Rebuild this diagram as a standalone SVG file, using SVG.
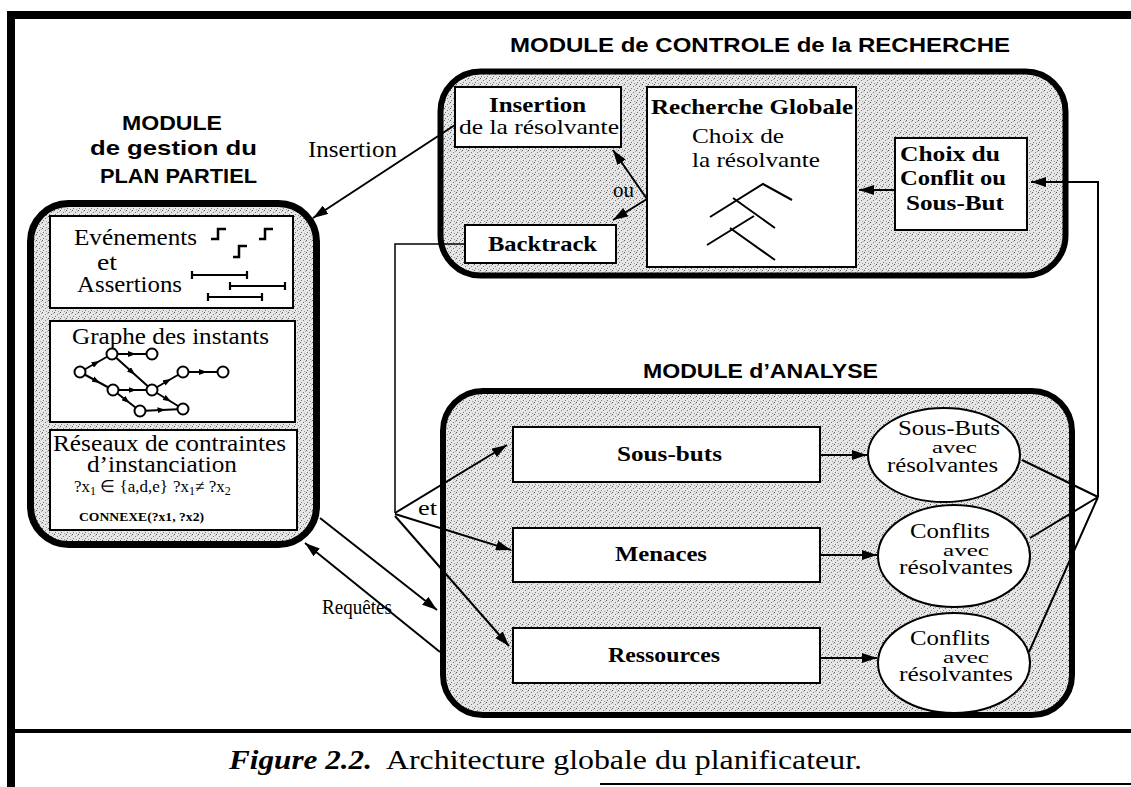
<svg xmlns="http://www.w3.org/2000/svg" width="1131" height="787" viewBox="0 0 1131 787">
<style>
.serif{font-family:"Liberation Serif","Times New Roman",Times,serif;fill:#000}
.sans{font-family:"Liberation Sans",Arial,sans-serif;font-weight:bold;fill:#000}
.b{font-weight:bold}
.box{fill:#fff;stroke:#000;stroke-width:2}
.mod{fill:url(#stip);stroke:#000}
.ln{fill:none;stroke:#000;stroke-width:2}
.thin{fill:none;stroke:#000;stroke-width:1.5}
.frame{stroke:#000;fill:none}
</style>
<defs>
<pattern id="stip" width="6" height="6" patternUnits="userSpaceOnUse">
<rect width="6" height="6" fill="#e6e6e6"/>
<rect x="0" y="0" width="1" height="1" fill="#555"/>
<rect x="3" y="2" width="1" height="1" fill="#777"/>
<rect x="1" y="4" width="1" height="1" fill="#777"/>
<rect x="4" y="5" width="1" height="1" fill="#999"/>
<rect x="5" y="1" width="1" height="1" fill="#aaa"/>
</pattern>
<marker id="ah" markerWidth="15" markerHeight="10" refX="15" refY="5" orient="auto" markerUnits="userSpaceOnUse"><path d="M0,0 L15,5 L0,10 z" fill="#000"/></marker>
<marker id="sm" markerWidth="8" markerHeight="6" refX="4" refY="3" orient="auto" markerUnits="userSpaceOnUse"><path d="M0,0 L8,3 L0,6 z" fill="#000"/></marker>
</defs>

<!-- frame -->
<g id="frame">
<line class="frame" x1="7" y1="15" x2="1131" y2="15" stroke-width="8"/>
<line class="frame" x1="11" y1="11" x2="11" y2="787" stroke-width="8"/>
<line class="frame" x1="7" y1="731" x2="1131" y2="731" stroke-width="4"/>
<line class="frame" x1="600" y1="784" x2="1131" y2="784" stroke-width="2"/>
</g>

<!-- titles -->
<g id="titles">
<text class="sans" x="510" y="52" font-size="21" textLength="500" lengthAdjust="spacingAndGlyphs">MODULE de CONTROLE de la RECHERCHE</text>
<text class="sans" x="122" y="130" font-size="21" textLength="100" lengthAdjust="spacingAndGlyphs">MODULE</text>
<text class="sans" x="90" y="155" font-size="21" textLength="167" lengthAdjust="spacingAndGlyphs">de gestion du</text>
<text class="sans" x="100" y="183" font-size="21" textLength="157" lengthAdjust="spacingAndGlyphs">PLAN PARTIEL</text>
<text class="sans" x="643" y="378" font-size="21" textLength="235" lengthAdjust="spacingAndGlyphs">MODULE d’ANALYSE</text>
</g>

<!-- control module -->
<g id="module-controle">
<rect class="mod" x="440.5" y="71.5" width="625" height="204" rx="40" stroke-width="6"/>
</g>
<g id="insertion-resolvante">
<rect class="box" x="455" y="87" width="166" height="60"/>
<text class="serif b" x="489" y="112" font-size="22" textLength="97" lengthAdjust="spacingAndGlyphs">Insertion</text>
<text class="serif" x="459" y="134" font-size="22" textLength="160" lengthAdjust="spacingAndGlyphs">de la résolvante</text>
</g>
<g id="recherche-globale">
<rect class="box" x="647" y="87" width="209" height="180"/>
<text class="serif b" x="651" y="114" font-size="22" textLength="202" lengthAdjust="spacingAndGlyphs">Recherche Globale</text>
<text class="serif" x="692" y="143" font-size="22" textLength="92" lengthAdjust="spacingAndGlyphs">Choix de</text>
<text class="serif" x="692" y="167" font-size="22" textLength="128" lengthAdjust="spacingAndGlyphs">la résolvante</text>
<path class="ln" d="M710,217 L763,184 L792,200 M733,198 L775,228 M707,245 L754,216 M730,228 L775,260"/>
</g>
<g id="backtrack">
<rect class="box" x="465" y="225" width="151" height="38"/>
<text class="serif b" x="488" y="251" font-size="22" textLength="109" lengthAdjust="spacingAndGlyphs">Backtrack</text>
</g>
<g id="choix-conflit">
<rect class="box" x="895" y="138" width="132" height="92"/>
<text class="serif b" x="900" y="161" font-size="22" textLength="100" lengthAdjust="spacingAndGlyphs">Choix du</text>
<text class="serif b" x="900" y="185" font-size="22" textLength="106" lengthAdjust="spacingAndGlyphs">Conflit ou</text>
<text class="serif b" x="906" y="210" font-size="22" textLength="98" lengthAdjust="spacingAndGlyphs">Sous-But</text>
</g>

<!-- plan partiel module -->
<g id="module-plan-partiel">
<rect class="mod" x="30.5" y="203.5" width="286" height="341" rx="38" stroke-width="7"/>
</g>
<g id="evenements-assertions">
<rect class="box" x="50" y="216" width="243" height="92"/>
<text class="serif" x="74" y="245" font-size="24" textLength="123" lengthAdjust="spacingAndGlyphs">Evénements</text>
<text class="serif" x="97" y="270" font-size="24" textLength="20" lengthAdjust="spacingAndGlyphs">et</text>
<text class="serif" x="77" y="292" font-size="24" textLength="105" lengthAdjust="spacingAndGlyphs">Assertions</text>
<path d="M211,239 L218,239 L218,229 L226,229 M233,257 L239,257 L239,246 L247,246 M259,239 L265,239 L265,229 L273,229" fill="none" stroke="#000" stroke-width="2.5"/>
<path d="M192,275 H247 M192,271 V279 M247,271 V279 M230,286 H285 M230,282 V290 M285,282 V290 M208,297 H262 M208,293 V301 M262,293 V301" fill="none" stroke="#000" stroke-width="2.2"/>
</g>
<g id="graphe-instants">
<rect class="box" x="50" y="321" width="245" height="101"/>
<text class="serif" x="72" y="344" font-size="24" textLength="197" lengthAdjust="spacingAndGlyphs">Graphe des instants</text>
<g fill="none" stroke="#000" stroke-width="2" marker-mid="url(#sm)">
<path d="M80,372 L96,363 L112,354"/>
<path d="M112,354 L132,354 L152,354"/>
<path d="M80,372 L96.5,381 L113,390"/>
<path d="M112,354 L132,372 L152,390"/>
<path d="M113,390 L132.5,390 L152,390"/>
<path d="M113,390 L126.5,400.5 L140,411"/>
<path d="M140,411 L161.5,410 L183,409"/>
<path d="M152,390 L167.5,399.5 L183,409"/>
<path d="M152,390 L167.5,381 L183,372"/>
<path d="M183,372 L203,372 L223,372"/>
</g>
<g fill="#fff" stroke="#000" stroke-width="2">
<circle cx="80" cy="372" r="5.5"/><circle cx="112" cy="354" r="5.5"/><circle cx="152" cy="354" r="5.5"/>
<circle cx="113" cy="390" r="5.5"/><circle cx="152" cy="390" r="5.5"/><circle cx="140" cy="411" r="5.5"/>
<circle cx="183" cy="409" r="5.5"/><circle cx="183" cy="372" r="5.5"/><circle cx="223" cy="372" r="5.5"/>
</g>
</g>
<g id="reseaux-contraintes">
<rect class="box" x="50" y="430" width="247" height="100"/>
<text class="serif" x="53" y="451" font-size="24" textLength="233" lengthAdjust="spacingAndGlyphs">Réseaux de contraintes</text>
<text class="serif" x="87" y="472" font-size="24" textLength="150" lengthAdjust="spacingAndGlyphs">d’instanciation</text>
<text class="serif" x="74" y="492" font-size="17">?x<tspan dy="3" font-size="12">1</tspan><tspan dy="-3"> ∈ {a,d,e}</tspan></text>
<text class="serif" x="173" y="492" font-size="17">?x<tspan dy="3" font-size="12">1</tspan><tspan dy="-3">≠ ?x</tspan><tspan dy="3" font-size="12">2</tspan></text>
<text class="serif b" x="79" y="521" font-size="13" textLength="125" lengthAdjust="spacingAndGlyphs">CONNEXE(?x1, ?x2)</text>
</g>

<!-- analysis module -->
<g id="module-analyse">
<rect class="mod" x="443" y="391" width="629" height="324" rx="40" stroke-width="6"/>
</g>
<g id="sous-buts">
<rect class="box" x="513" y="427" width="307" height="55"/>
<text class="serif b" x="617" y="461" font-size="22" textLength="105" lengthAdjust="spacingAndGlyphs">Sous-buts</text>
</g>
<g id="menaces">
<rect class="box" x="513" y="528" width="307" height="54"/>
<text class="serif b" x="615" y="561" font-size="22" textLength="92" lengthAdjust="spacingAndGlyphs">Menaces</text>
</g>
<g id="ressources">
<rect class="box" x="513" y="628" width="307" height="55"/>
<text class="serif b" x="608" y="662" font-size="22" textLength="112" lengthAdjust="spacingAndGlyphs">Ressources</text>
</g>
<g id="sous-buts-resolvantes">
<ellipse class="box" cx="944" cy="455" rx="76" ry="47"/>
<text class="serif" x="898" y="435" font-size="20" textLength="102" lengthAdjust="spacingAndGlyphs">Sous-Buts</text>
<text class="serif" x="932" y="453" font-size="17" textLength="45" lengthAdjust="spacingAndGlyphs">avec</text>
<text class="serif" x="887" y="472" font-size="20" textLength="111" lengthAdjust="spacingAndGlyphs">résolvantes</text>
</g>
<g id="conflits-menaces">
<ellipse class="box" cx="954" cy="556" rx="76" ry="51"/>
<text class="serif" x="910" y="538" font-size="20" textLength="80" lengthAdjust="spacingAndGlyphs">Conflits</text>
<text class="serif" x="943" y="556" font-size="17" textLength="46" lengthAdjust="spacingAndGlyphs">avec</text>
<text class="serif" x="899" y="574" font-size="20" textLength="114" lengthAdjust="spacingAndGlyphs">résolvantes</text>
</g>
<g id="conflits-ressources">
<ellipse class="box" cx="954" cy="663" rx="76" ry="50"/>
<text class="serif" x="910" y="645" font-size="20" textLength="80" lengthAdjust="spacingAndGlyphs">Conflits</text>
<text class="serif" x="943" y="663" font-size="17" textLength="46" lengthAdjust="spacingAndGlyphs">avec</text>
<text class="serif" x="899" y="681" font-size="20" textLength="114" lengthAdjust="spacingAndGlyphs">résolvantes</text>
</g>

<!-- connectors -->
<g id="connectors">
<path class="ln" d="M455,125 L313,218" marker-end="url(#ah)"/>
<text class="serif" x="308" y="157" font-size="24" textLength="89" lengthAdjust="spacingAndGlyphs">Insertion</text>
<path class="ln" d="M647,199 L613,150" marker-end="url(#ah)"/>
<path class="ln" d="M647,199 L613,220" marker-end="url(#ah)"/>
<text class="serif" x="613" y="197" font-size="22" textLength="21" lengthAdjust="spacingAndGlyphs">ou</text>
<path class="ln" d="M895,190 L859,190" marker-end="url(#ah)"/>
<path class="ln" d="M1022,460 L1098,497 M1030,538 L1098,497 M1029,652 L1098,497"/>
<path class="ln" d="M1098,497 L1098,182 L1031,182" marker-end="url(#ah)"/>
<path class="thin" d="M465,244 L395,244 L395,513"/>
<path class="ln" d="M395,513 L507,445" marker-end="url(#ah)"/>
<path class="ln" d="M395,514 L511,550" marker-end="url(#ah)"/>
<path class="ln" d="M395,516 L509,646" marker-end="url(#ah)"/>
<text class="serif" x="418" y="515" font-size="22" textLength="19" lengthAdjust="spacingAndGlyphs">et</text>
<path class="ln" d="M820,455 L867,455" marker-end="url(#ah)"/>
<path class="ln" d="M820,555 L877,555" marker-end="url(#ah)"/>
<path class="ln" d="M820,658 L877,658" marker-end="url(#ah)"/>
<path class="ln" d="M320,518 L437,610" marker-end="url(#ah)"/>
<path class="ln" d="M440,652 L305,543" marker-end="url(#ah)"/>
<text class="serif" x="322" y="614" font-size="21" textLength="70" lengthAdjust="spacingAndGlyphs">Requêtes</text>
</g>

<!-- caption -->
<g id="caption">
<text class="serif" x="229" y="769" font-size="27" font-weight="bold" font-style="italic" textLength="143" lengthAdjust="spacingAndGlyphs">Figure 2.2.</text>
<text class="serif" x="386" y="769" font-size="27" textLength="476" lengthAdjust="spacingAndGlyphs">Architecture globale du planificateur.</text>
</g>
</svg>
